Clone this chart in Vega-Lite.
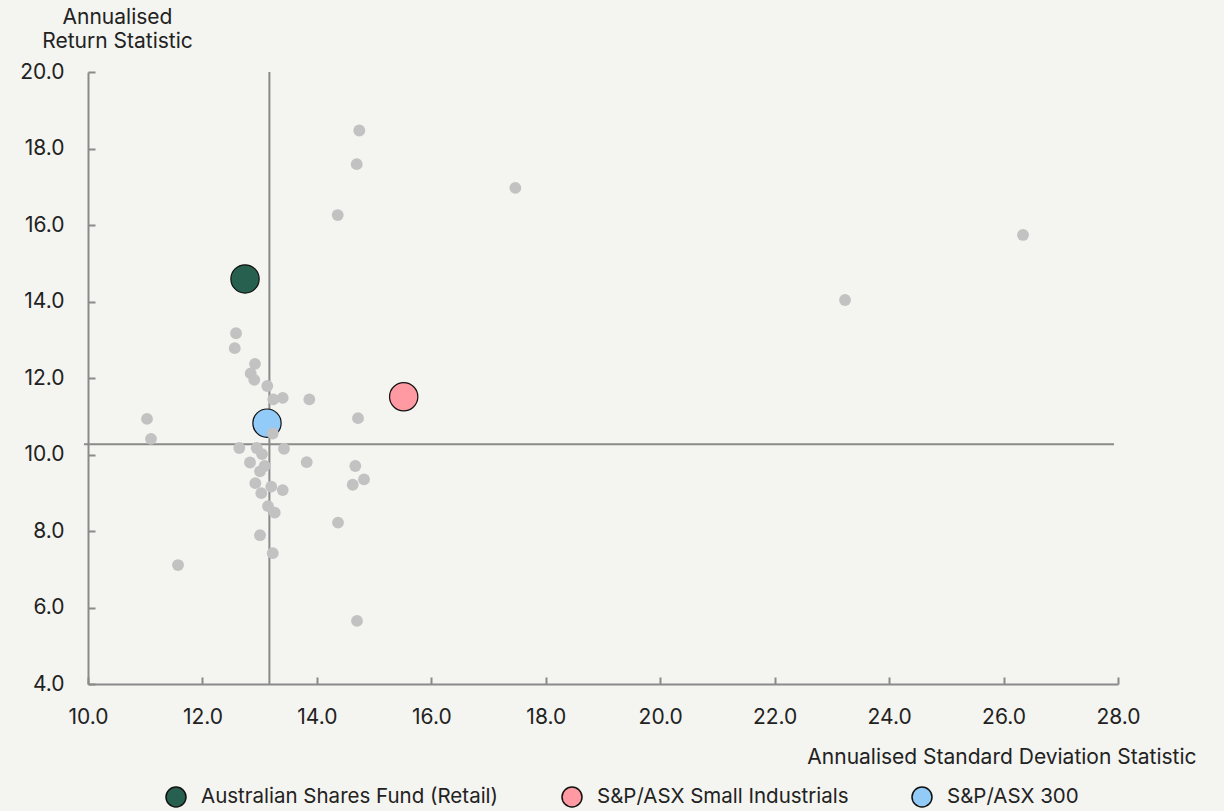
{
  "$schema": "https://vega.github.io/schema/vega-lite/v6.json",
  "width": 1030,
  "height": 612,
  "autosize": {"type": "none"},
  "padding": {"left": 88, "top": 72, "right": 106, "bottom": 127},
  "background": "#f4f4f0",
  "config": {
    "view": {"stroke": null},
    "font": "Inter",
    "axis": {
      "grid": false,
      "domainColor": "#8a8a8a",
      "domainWidth": 2,
      "tickColor": "#8a8a8a",
      "tickWidth": 2,
      "tickSize": -7,
      "labelFlush": false,
      "labelFont": "Inter",
      "labelFontSize": 21,
      "labelColor": "#222222",
      "titleFont": "Inter",
      "titleFontSize": 21,
      "titleFontWeight": "normal",
      "titleColor": "#222222"
    }
  },
  "datasets": {
    "peers": [
      {"sd": 12.587, "ret": 13.17},
      {"sd": 12.564, "ret": 12.78},
      {"sd": 12.918, "ret": 12.37},
      {"sd": 12.843, "ret": 12.12},
      {"sd": 12.906, "ret": 11.95},
      {"sd": 13.133, "ret": 11.79},
      {"sd": 13.238, "ret": 11.44},
      {"sd": 13.403, "ret": 11.48},
      {"sd": 13.868, "ret": 11.44},
      {"sd": 14.719, "ret": 10.95},
      {"sd": 13.228, "ret": 10.55},
      {"sd": 12.644, "ret": 10.17},
      {"sd": 12.948, "ret": 10.17},
      {"sd": 13.041, "ret": 10.01},
      {"sd": 13.425, "ret": 10.15},
      {"sd": 12.831, "ret": 9.79},
      {"sd": 13.088, "ret": 9.70},
      {"sd": 13.006, "ret": 9.56},
      {"sd": 13.822, "ret": 9.80},
      {"sd": 14.671, "ret": 9.70},
      {"sd": 14.823, "ret": 9.35},
      {"sd": 14.626, "ret": 9.21},
      {"sd": 12.924, "ret": 9.25},
      {"sd": 13.203, "ret": 9.16},
      {"sd": 13.029, "ret": 8.99},
      {"sd": 13.403, "ret": 9.07},
      {"sd": 13.146, "ret": 8.65},
      {"sd": 13.263, "ret": 8.48},
      {"sd": 14.369, "ret": 8.22},
      {"sd": 13.006, "ret": 7.89},
      {"sd": 13.228, "ret": 7.42},
      {"sd": 14.741, "ret": 18.47},
      {"sd": 14.696, "ret": 17.59},
      {"sd": 14.364, "ret": 16.26},
      {"sd": 17.468, "ret": 16.97},
      {"sd": 11.031, "ret": 10.93},
      {"sd": 11.101, "ret": 10.41},
      {"sd": 11.573, "ret": 7.11},
      {"sd": 14.701, "ret": 5.65},
      {"sd": 23.23, "ret": 14.04},
      {"sd": 26.34, "ret": 15.74}
    ],
    "highlights": [
      {"name": "Australian Shares Fund (Retail)", "sd": 12.744, "ret": 14.59},
      {"name": "S&P/ASX Small Industrials", "sd": 15.517, "ret": 11.51},
      {"name": "S&P/ASX 300", "sd": 13.128, "ret": 10.82}
    ],
    "vline": [{"sd": 13.17}],
    "hline": [{"ret": 10.27, "x1": 9.93, "x2": 27.93}]
  },
  "layer": [
    {
      "data": {"name": "vline"},
      "mark": {"type": "rule", "color": "#8a8a8a", "strokeWidth": 2},
      "encoding": {
        "x": {"field": "sd", "type": "quantitative", "scale": {"domain": [10, 28], "nice": false, "zero": false}}
      }
    },
    {
      "data": {"name": "hline"},
      "mark": {"type": "rule", "color": "#8a8a8a", "strokeWidth": 2, "clip": false},
      "encoding": {
        "y": {"field": "ret", "type": "quantitative", "scale": {"domain": [4, 20], "nice": false, "zero": false}},
        "x": {"field": "x1", "type": "quantitative", "scale": {"domain": [10, 28], "nice": false, "zero": false}},
        "x2": {"field": "x2"}
      }
    },
    {
      "data": {"name": "highlights"},
      "mark": {"type": "circle", "size": 800, "opacity": 1, "stroke": "#111111", "strokeWidth": 1.2},
      "encoding": {
        "x": {"field": "sd", "type": "quantitative", "scale": {"domain": [10, 28], "nice": false, "zero": false}},
        "y": {"field": "ret", "type": "quantitative", "scale": {"domain": [4, 20], "nice": false, "zero": false}},
        "color": {
          "field": "name",
          "type": "nominal",
          "scale": {
            "domain": ["Australian Shares Fund (Retail)", "S&P/ASX Small Industrials", "S&P/ASX 300"],
            "range": ["#28604f", "#ff9aa2", "#92cbf7"]
          },
          "legend": {
            "title": null,
            "orient": "none",
            "direction": "horizontal",
            "legendX": 77,
            "legendY": 714,
            "symbolSize": 400,
            "symbolStrokeColor": "#111111",
            "symbolStrokeWidth": 1.5,
            "symbolType": "circle",
            "labelFont": "Inter",
            "labelFontSize": 20.5,
            "labelColor": "#222222",
            "labelLimit": 0,
            "labelOffset": 14,
            "columnPadding": 60
          }
        }
      }
    },
    {
      "data": {"name": "peers"},
      "mark": {"type": "circle", "size": 140, "color": "#c2c2c2", "opacity": 1},
      "encoding": {
        "x": {
          "field": "sd",
          "type": "quantitative",
          "scale": {"domain": [10, 28], "nice": false, "zero": false},
          "axis": {
            "values": [10, 12, 14, 16, 18, 20, 22, 24, 26, 28],
            "format": ".1f",
            "labelPadding": 29,
            "title": "Annualised Standard Deviation Statistic",
            "titleAnchor": "end",
            "titleAlign": "right",
            "titleX": 1108,
            "titleY": 79,
            "titleBaseline": "alphabetic"
          }
        },
        "y": {
          "field": "ret",
          "type": "quantitative",
          "scale": {"domain": [4, 20], "nice": false, "zero": false},
          "axis": {
            "values": [4, 6, 8, 10, 12, 14, 16, 18, 20],
            "format": ".1f",
            "labelPadding": 31,
            "title": ["Annualised", "Return Statistic"],
            "titleAngle": 0,
            "titleAlign": "center",
            "titleX": 29,
            "titleY": -49,
            "titleBaseline": "alphabetic",
            "titleLineHeight": 24
          }
        }
      }
    }
  ]
}
